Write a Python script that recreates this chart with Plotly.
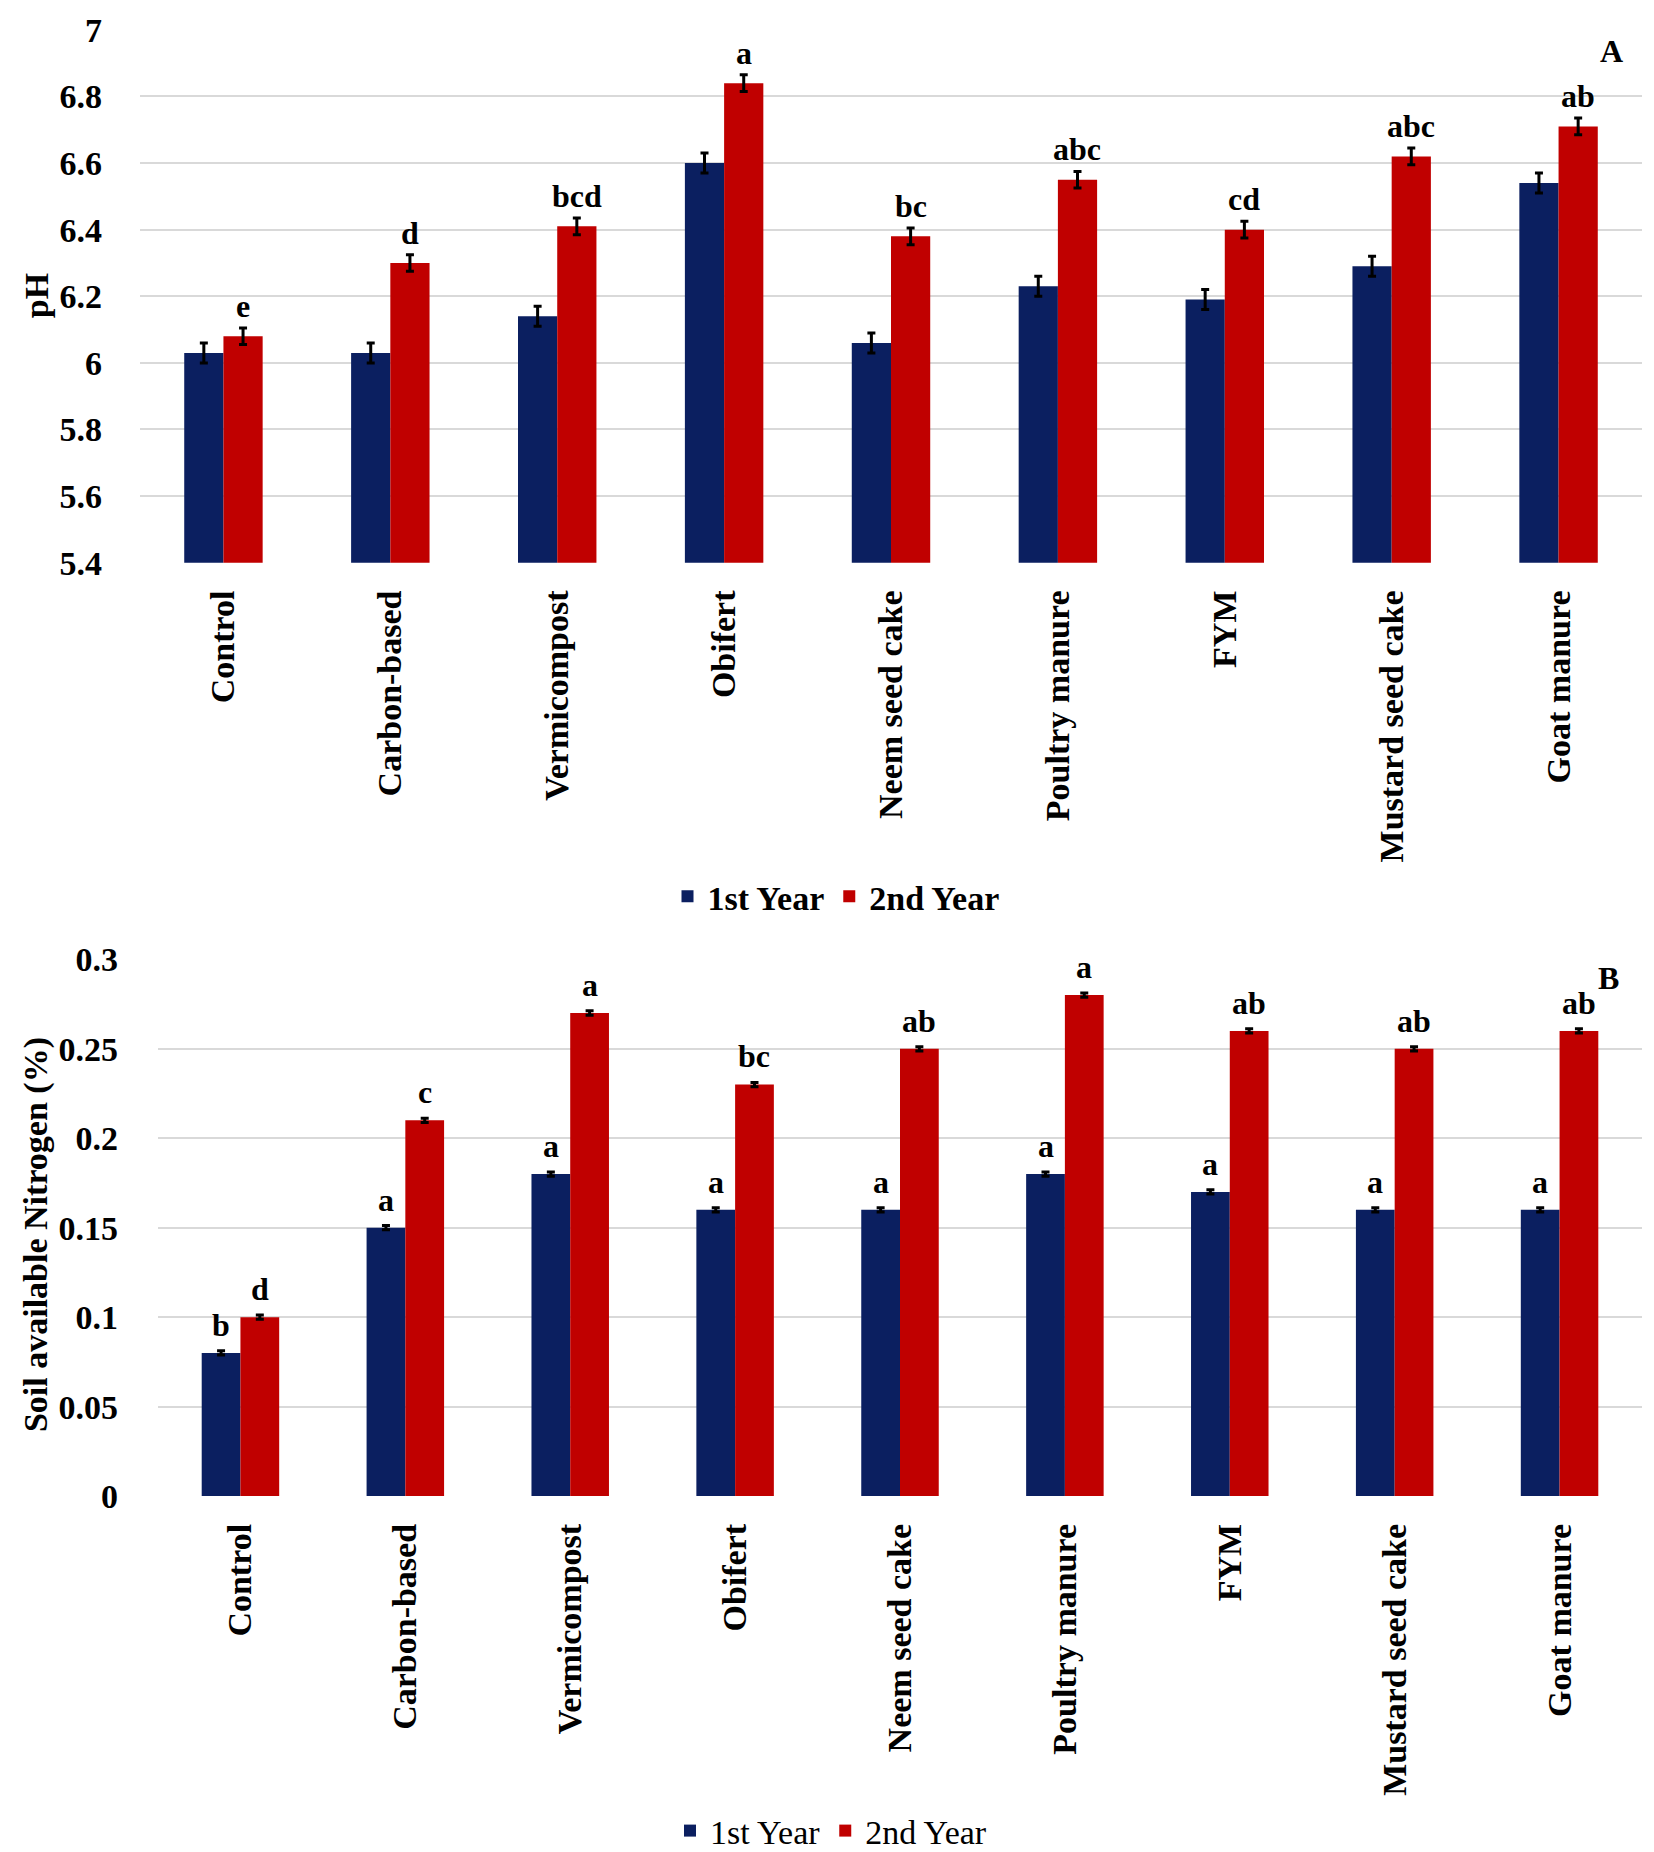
"""
Soil pH (A) and soil available nitrogen (B) under nine organic amendments,
1st vs 2nd year, grouped bars with error bars and significance letters.
"""

import plotly.graph_objects as go

# ── Data ──────────────────────────────────────────────────────────
CATEGORIES = [
    "Control", "Carbon-based", "Vermicompost", "Obifert", "Neem seed cake",
    "Poultry manure", "FYM", "Mustard seed cake", "Goat manure",
]

PH_Y1 = [6.03, 6.03, 6.14, 6.60, 6.06, 6.23, 6.19, 6.29, 6.54]
PH_Y2 = [6.08, 6.30, 6.41, 6.84, 6.38, 6.55, 6.40, 6.62, 6.71]
PH_ERR_Y1 = [0.03, 0.03, 0.03, 0.03, 0.03, 0.03, 0.03, 0.03, 0.03]
PH_ERR_Y2 = [0.025, 0.025, 0.025, 0.025, 0.025, 0.025, 0.025, 0.025, 0.025]
PH_LETTERS_Y2 = ["e", "d", "bcd", "a", "bc", "abc", "cd", "abc", "ab"]

N_Y1 = [0.08, 0.15, 0.18, 0.16, 0.16, 0.18, 0.17, 0.16, 0.16]
N_Y2 = [0.10, 0.21, 0.27, 0.23, 0.25, 0.28, 0.26, 0.25, 0.26]
N_ERR_Y1 = [0.0012] * 9
N_ERR_Y2 = [0.0012] * 9
N_LETTERS_Y1 = ["b", "a", "a", "a", "a", "a", "a", "a", "a"]
N_LETTERS_Y2 = ["d", "c", "a", "bc", "ab", "a", "ab", "ab", "ab"]

PH_TICKS = [5.4, 5.6, 5.8, 6, 6.2, 6.4, 6.6, 6.8, 7]
PH_TICKTEXT = ["5.4", "5.6", "5.8", "6", "6.2", "6.4", "6.6", "6.8", "7"]
N_TICKS = [0, 0.05, 0.1, 0.15, 0.2, 0.25, 0.3]
N_TICKTEXT = ["0", "0.05", "0.1", "0.15", "0.2", "0.25", "0.3"]

# ── Style ─────────────────────────────────────────────────────────
W, H = 1654, 1852
NAVY = "#0B1F60"
RED = "#C00000"
GRID = "#D9D9D9"
SERIF = "Liberation Serif, Times New Roman, serif"
BARGAP = 0.53

X_DOM_A = [132 / W, 1634 / W]
X_DOM_B = [150 / W, 1634 / W]
Y_DOM_A = [1 - 558 / H, 1 - 22 / H]
Y_DOM_B = [1 - 1497 / H, 1 - 957 / H]


def half_bar_px(dom):
    cat_w = (dom[1] - dom[0]) * W / len(CATEGORIES)
    return cat_w * (1 - BARGAP) / 4


def bar(name, y, err, color, xa, ya, legend):
    return go.Bar(
        x=CATEGORIES, y=y, name=name,
        marker=dict(color=color, line=dict(width=0)),
        error_y=dict(type="data", array=err, color="black",
                     thickness=3, width=4),
        xaxis=xa, yaxis=ya, legend=legend,
    )


fig = go.Figure()
fig.add_trace(bar("<b>1st Year</b>", PH_Y1, PH_ERR_Y1, NAVY, "x", "y", "legend"))
fig.add_trace(bar("<b>2nd Year</b>", PH_Y2, PH_ERR_Y2, RED, "x", "y", "legend"))
fig.add_trace(bar("1st Year", N_Y1, N_ERR_Y1, NAVY, "x2", "y2", "legend2"))
fig.add_trace(bar("2nd Year", N_Y2, N_ERR_Y2, RED, "x2", "y2", "legend2"))

# ── Significance letters ──────────────────────────────────────────
letter_font = dict(family=SERIF, size=32, color="black")
annotations = []
shA = half_bar_px(X_DOM_A)
shB = half_bar_px(X_DOM_B)


def letters(vals, errs, labels, xref, yref, xshift, yshift):
    for c, v, e, t in zip(CATEGORIES, vals, errs, labels):
        annotations.append(dict(
            x=c, y=v + e, xref=xref, yref=yref, text=f"<b>{t}</b>",
            showarrow=False, xshift=xshift, yshift=yshift,
            xanchor="center", yanchor="bottom", font=letter_font,
        ))


letters(PH_Y2, PH_ERR_Y2, PH_LETTERS_Y2, "x", "y", shA, 2)
letters(N_Y1, N_ERR_Y1, N_LETTERS_Y1, "x2", "y2", -shB, 6)
letters(N_Y2, N_ERR_Y2, N_LETTERS_Y2, "x2", "y2", shB, 6)

# panel letters and y titles
annotations += [
    dict(x=1603 / W, y=1 - 43 / H, xref="paper", yref="paper", text="<b>A</b>",
         xanchor="center", yanchor="middle", showarrow=False,
         font=dict(family=SERIF, size=32, color="black")),
    dict(x=1600 / W, y=1 - 976 / H, xref="paper", yref="paper", text="<b>B</b>",
         xanchor="center", yanchor="middle", showarrow=False,
         font=dict(family=SERIF, size=32, color="black")),
    dict(x=28 / W, y=sum(Y_DOM_A) / 2, xref="paper", yref="paper", text="<b>pH</b>",
         textangle=-90, xanchor="center", yanchor="middle", showarrow=False,
         font=dict(family=SERIF, size=34, color="black")),
    dict(x=28 / W, y=sum(Y_DOM_B) / 2 - 0.004, xref="paper", yref="paper",
         text="<b>Soil available Nitrogen (%)</b>", textangle=-90,
         xanchor="center", yanchor="middle", showarrow=False,
         font=dict(family=SERIF, size=34, color="black")),
]

xcommon = dict(tickangle=-90, tickfont=dict(family=SERIF, size=34, color="black"),
               showgrid=False, showline=False, ticks="", ticklabelstandoff=20,
               tickprefix="<b>", ticksuffix="</b>", automargin=False)
ycommon = dict(tickfont=dict(family=SERIF, size=34, color="black"),
               showgrid=True, gridcolor=GRID, gridwidth=2,
               zeroline=False, showline=False, ticks="", automargin=False)

fig.update_layout(
    width=W, height=H,
    margin=dict(l=0, r=0, t=0, b=0),
    paper_bgcolor="white", plot_bgcolor="white",
    barmode="group", bargap=BARGAP, bargroupgap=0,
    xaxis=dict(domain=X_DOM_A, anchor="y", **xcommon),
    yaxis=dict(domain=Y_DOM_A, anchor="x", range=[5.4, 7], tickvals=PH_TICKS,
               ticktext=[f"<b>{t}</b>" for t in PH_TICKTEXT],
               ticklabelstandoff=37, **ycommon),
    xaxis2=dict(domain=X_DOM_B, anchor="y2", **xcommon),
    yaxis2=dict(domain=Y_DOM_B, anchor="x2", range=[0, 0.3], tickvals=N_TICKS,
                ticktext=[f"<b>{t}</b>" for t in N_TICKTEXT],
                ticklabelstandoff=39, **ycommon),
    legend=dict(orientation="h", x=828 / W, y=1 - 894 / H, xanchor="center",
                yanchor="middle", font=dict(family=SERIF, size=34, color="black"),
                bgcolor="rgba(0,0,0,0)", traceorder="normal", itemwidth=30),
    legend2=dict(orientation="h", x=823 / W, y=1 - 1834 / H, xanchor="center",
                 yanchor="middle", font=dict(family=SERIF, size=34, color="black"),
                 bgcolor="rgba(0,0,0,0)", traceorder="normal", itemwidth=30),
    annotations=annotations,
    showlegend=True,
)

fig.write_html("out.html")
